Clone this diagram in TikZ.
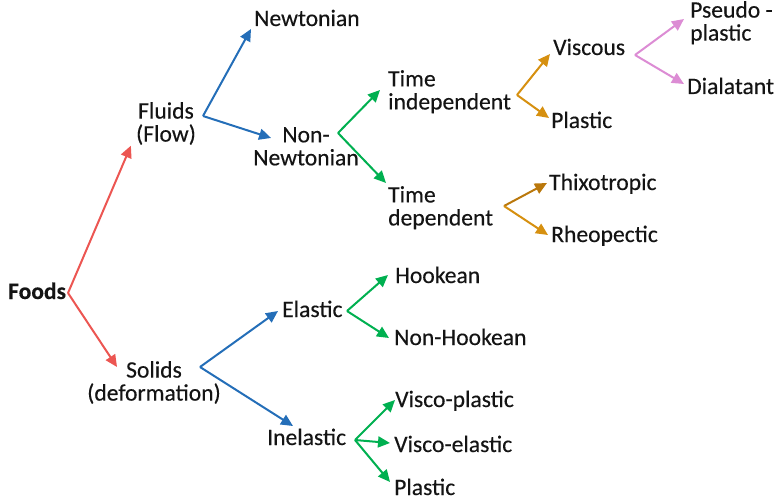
\documentclass[tikz,border=0pt]{standalone}
\usepackage{fontspec}
\setmainfont{Carlito}[FakeBold=0.3]
\newfontfamily\labelfont{Carlito}[FakeBold=0.3]
\usetikzlibrary{arrows.meta}
\definecolor{foodRed}{RGB}{236,86,82}
\definecolor{foodBlue}{RGB}{36,110,184}
\definecolor{foodGreen}{RGB}{0,176,80}
\definecolor{foodAmber}{RGB}{214,144,16}
\definecolor{foodBrown}{RGB}{186,120,12}
\definecolor{foodPink}{RGB}{220,140,212}
\definecolor{foodInk}{RGB}{20,20,20}

\begin{document}
\begin{tikzpicture}[
  x=1pt, y=-1pt,
  lbl/.style={inner sep=0pt, text=foodInk, font=\labelfont\fontsize{23.6}{23}\selectfont,
              execute at begin node=\strut},
  leaf/.style={lbl, anchor=base west},
  arr/.style={-{Triangle[length=12pt,width=11pt]}, line width=2pt},
]
\useasboundingbox (0,0) rectangle (776,500);

%%──────────────────────────────────────────────────────────────────
%% Nodes
%%──────────────────────────────────────────────────────────────────
\node[leaf, font=\fontsize{23.5}{23}\selectfont\bfseries] (foods) at (8,299) {Foods};

% fluids branch
\node[lbl, anchor=north, align=center] (fluids) at (166,102) {Fluids\\(Flow)};
\node[leaf] (newt) at (254,26) {Newtonian};
\node[lbl, anchor=north, align=center] (nonnewt) at (306,127) {Non-\\Newtonian};
\node[lbl, anchor=north west, align=left] (timeind) at (388,70) {Time\\independent};
\node[lbl, anchor=north west, align=left] (timedep) at (388,186) {Time\\dependent};
\node[leaf] (viscous) at (553,55) {Viscous};
\node[leaf] (plasticA) at (551,128) {Plastic};
\node[lbl, anchor=north west, align=left] (pseudo) at (690,1) {Pseudo -\\plastic};
\node[leaf] (dialat) at (687,94) {Dialatant};
\node[leaf] (thixo) at (549,190) {Thixotropic};
\node[leaf] (rheo) at (551,242) {Rheopectic};

% solids branch
\node[lbl, anchor=north, align=center] (solids) at (154,361) {Solids\\(deformation)};
\node[leaf] (elastic) at (282,317) {Elastic};
\node[leaf] (hooke) at (395,283) {Hookean};
\node[leaf] (nonhooke) at (394,345) {Non-Hookean};
\node[leaf] (inelastic) at (267,445) {Inelastic};
\node[leaf] (viscpl) at (395,407) {Visco-plastic};
\node[leaf] (viscel) at (394,452) {Visco-elastic};
\node[leaf] (plasticB) at (394,495) {Plastic};

%%──────────────────────────────────────────────────────────────────
%% Fork points
%%──────────────────────────────────────────────────────────────────
\coordinate (foodsfork) at (68,293);
\coordinate (fluidsfork) at (203,116);
\coordinate (solidsfork) at (200,367);
\coordinate (nonnewtfork) at (338,133);
\coordinate (timeindfork) at (517,95);
\coordinate (timedepfork) at (504,206);
\coordinate (viscousfork) at (635,55);
\coordinate (elasticfork) at (347,311);
\coordinate (inelasticfork) at (355,440);

%%──────────────────────────────────────────────────────────────────
%% Connectors
%%──────────────────────────────────────────────────────────────────
\draw[arr, foodRed] (foodsfork) -- ([shift={(-5,-3)}]fluids.south west);
\draw[arr, foodRed] (foodsfork) -- ([shift={(30,6)}]solids.north west);

\draw[arr, foodBlue] (fluidsfork) -- ([shift={(-3,3)}]newt.base west);
\draw[arr, foodBlue] (fluidsfork) -- ([shift={(18,11)}]nonnewt.north west);
\draw[arr, foodBlue] (solidsfork) -- ([shift={(-4,-6)}]elastic.base west);
\draw[arr, foodBlue] (solidsfork) -- ([shift={(26,-19)}]inelastic.base west);

\draw[arr, foodGreen] (nonnewtfork) -- ([shift={(-8,20)}]timeind.north west);
\draw[arr, foodGreen] (nonnewtfork) -- ([shift={(-2,-3)}]timedep.north west);

\draw[arr, foodAmber] (timeindfork) -- ([shift={(-3,-1)}]viscous.base west);
\draw[arr, foodAmber] (timeindfork) -- ([shift={(-2,-10)}]plasticA.base west);
\draw[arr, foodBrown] (timedepfork) -- ([shift={(-2,-7)}]thixo.base west);
\draw[arr, foodAmber] (timedepfork) -- ([shift={(-3,-7)}]rheo.base west);

\draw[arr, foodPink] (viscousfork) -- ([shift={(-6,18)}]pseudo.north west);
\draw[arr, foodPink] (viscousfork) -- ([shift={(-3,-10)}]dialat.base west);

\foreach \tgt/\dx/\dy in {hooke/-7/-8, nonhooke/-5/-7}{
  \draw[arr, foodGreen] (elasticfork) -- ([shift={(\dx,\dy)}]\tgt.base west);
}
\foreach \tgt/\dx/\dy in {viscpl/0/-7, viscel/-4/-9, plasticB/-4/-13}{
  \draw[arr, foodGreen] (inelasticfork) -- ([shift={(\dx,\dy)}]\tgt.base west);
}

\end{tikzpicture}
\end{document}
